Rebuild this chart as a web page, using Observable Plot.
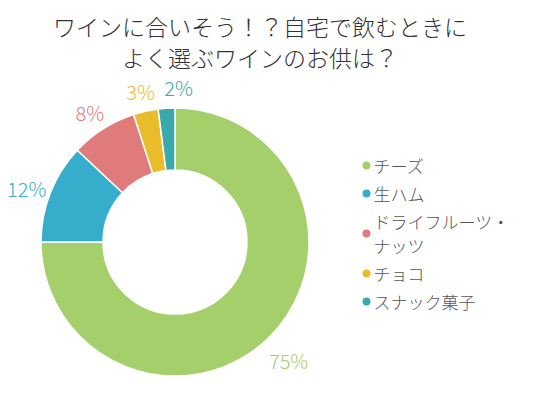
<!DOCTYPE html>
<html><head><meta charset="utf-8">
<script src="https://cdn.jsdelivr.net/npm/d3@7"></script>
<script src="https://cdn.jsdelivr.net/npm/@observablehq/plot@0.6"></script>
<style>
body{margin:0;background:#fff;font-family:"Noto Sans CJK JP",sans-serif;}
#title{width:520px;height:74px;box-sizing:border-box;padding-top:11px;text-align:center;font-size:23px;font-weight:300;line-height:31px;color:#333;overflow:visible;}
</style></head><body>
<div id="title">ワインに合いそう！？自宅で飲むときに<br>よく選ぶワインのお供は？</div>
<div id="chart"></div>
<script>
const categories = ["チーズ","生ハム","ドライフルーツ・ナッツ","チョコ","スナック菓子"];
const values = [75,12,8,3,2];
const colors = ["#a5cf6b","#35adcb","#e07b7b","#e8bc2a","#3aa9a9"];

const W = 540, H = 326;
const cx = 175, cy = 168, rOuter = 134, rInner = 72, rLabel = 160;

const data = categories.map((c, i) => ({category: c, value: values[i], color: colors[i]}));
const arcs = d3.pie().sort(null).value(d => d.value)(data);

// outside percentage labels
const labels = arcs.map(a => {
  const m = (a.startAngle + a.endAngle) / 2;
  return {x: cx + rLabel * Math.sin(m), y: cy + 7 - rLabel * Math.cos(m), text: a.data.value + "%", color: a.data.color};
});
// push later labels right when they collide with earlier ones
for (let i = 0; i < labels.length; i++) for (let j = i + 1; j < labels.length; j++) {
  const a = labels[i], b = labels[j];
  const need = 38;
  if (Math.abs(a.y - b.y) < 20 && Math.abs(b.x - a.x) < need) b.x = a.x + need;
}

// legend rows
const lineH = 24, gap = 4;
let yCur = 91 - lineH / 2;
const legend = data.map(d => {
  const text = d.category.replace("・", "・\n");
  const n = text.split("\n").length;
  const h = n * lineH;
  const y = yCur + h / 2;
  yCur += h + gap;
  return {text, y, color: d.color};
});

function donutMark(index, scales) {
  const g = d3.create("svg:g");
  const x0 = scales.x(cx), y0 = scales.y(cy);
  const k = scales.x(cx + 1) - scales.x(cx);
  const arc = d3.arc().innerRadius(rInner * k).outerRadius(rOuter * k);
  g.attr("transform", `translate(${x0},${y0})`)
    .selectAll("path").data(arcs).join("path")
    .attr("d", arc)
    .attr("fill", d => d.data.color)
    .attr("stroke", "#fff")
    .attr("stroke-width", 1.5);
  return g.node();
}

const chart = Plot.plot({
  width: W, height: H, margin: 0,
  x: {domain: [0, W], range: [0, W], axis: null},
  y: {domain: [0, H], range: [0, H], axis: null},
  color: {type: "identity"},
  style: {fontFamily: "'Noto Sans CJK JP', sans-serif", background: "#fff", overflow: "visible"},
  marks: [
    donutMark,
    Plot.text(labels, {x: "x", y: "y", text: "text", fill: "color", fontSize: 20, fontWeight: 300}),
    Plot.dot(legend, {x: () => 366, y: "y", r: 4, fill: "color", stroke: null}),
    Plot.text(legend, {x: () => 373, y: "y", text: "text", fill: "#555", fontSize: 17, fontWeight: 300, textAnchor: "start", lineHeight: 1.38})
  ]
});
document.getElementById("chart").appendChild(chart);
</script>
</body></html>
